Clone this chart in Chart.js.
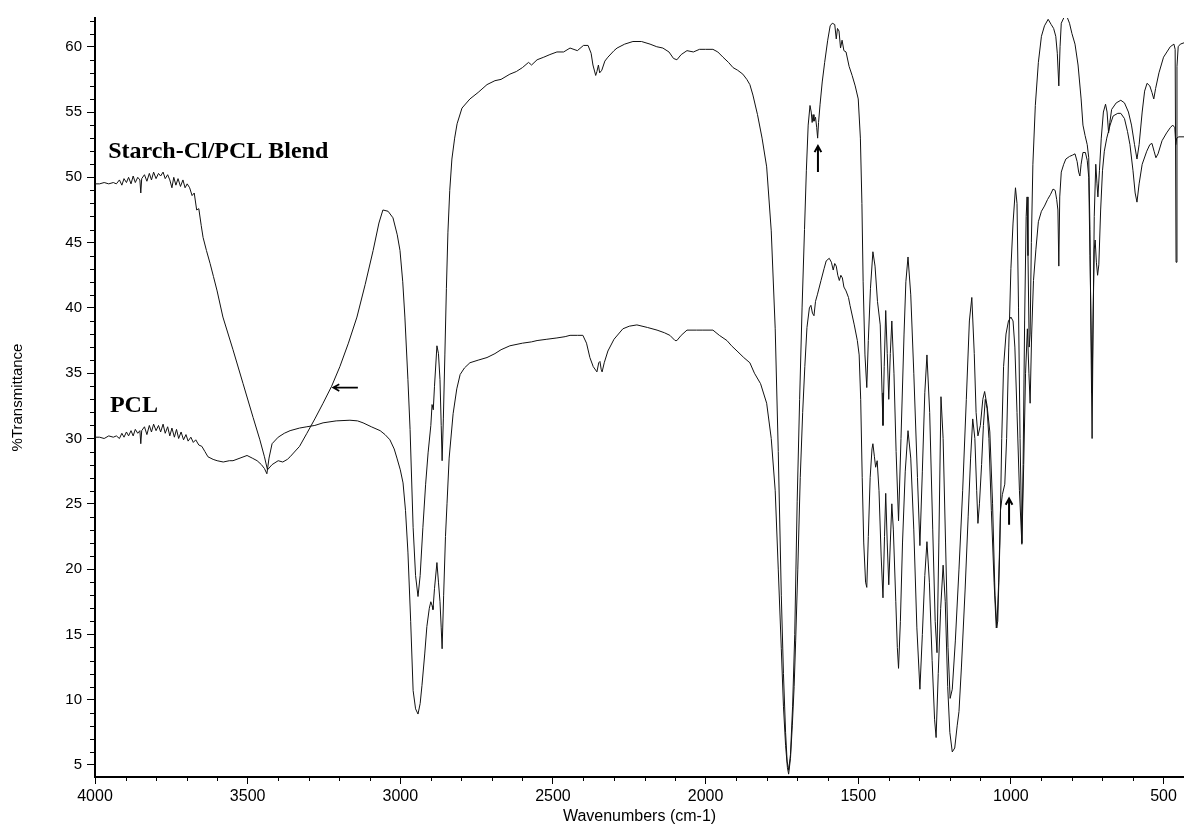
<!DOCTYPE html>
<html>
<head>
<meta charset="utf-8">
<script src="https://cdn.jsdelivr.net/npm/chart.js@4.4.1/dist/chart.umd.min.js"></script>
<style>
  html, body { margin: 0; padding: 0; background: #fff; }
  #wrap { width: 1184px; height: 827px; }
</style>
</head>
<body>
<div id="wrap"><canvas id="c" width="1184" height="827"></canvas></div>
<script>
// ---------------- DATA ----------------
const blendWavenumbers = [
  4000, 3985, 3970, 3955, 3940, 3930, 3920, 3912, 3905, 3897,
  3890, 3882, 3875, 3868, 3860, 3853, 3850, 3847, 3838, 3830,
  3822, 3815, 3808, 3800, 3792, 3785, 3777, 3770, 3762, 3755,
  3748, 3742, 3735, 3728, 3720, 3712, 3705, 3698, 3690, 3682,
  3675, 3667, 3660, 3652, 3646, 3635, 3623, 3612, 3600, 3581,
  3548, 3515, 3482, 3460, 3445, 3435, 3420, 3400, 3385, 3370,
  3361, 3330, 3306, 3280, 3253, 3225, 3198, 3170, 3142, 3115,
  3089, 3070, 3057, 3040, 3024, 3010, 3001, 2992, 2985, 2975,
  2968, 2958, 2950, 2942, 2935, 2926, 2917, 2909, 2900, 2896,
  2892, 2888, 2880, 2875, 2870, 2866, 2863, 2859, 2854, 2849,
  2844, 2838, 2831, 2822, 2814, 2798, 2772, 2745, 2716, 2690,
  2670, 2641, 2620, 2600, 2580, 2570, 2552, 2530, 2510, 2487,
  2465, 2444, 2420, 2400, 2385, 2375, 2369, 2360, 2356, 2351,
  2347, 2340, 2330, 2320, 2300, 2290, 2265, 2238, 2210, 2182,
  2160, 2140, 2120, 2105, 2094, 2080, 2061, 2040, 2020, 2000,
  1976, 1960, 1943, 1925, 1910, 1895, 1878, 1865, 1855, 1845,
  1830, 1815, 1800, 1785, 1772, 1762, 1752, 1745, 1738, 1733,
  1728, 1722, 1715, 1708, 1700, 1692, 1684, 1676, 1670, 1664,
  1658, 1654, 1651, 1648, 1645, 1640, 1636, 1633, 1630, 1625,
  1618, 1610, 1600, 1592, 1585, 1577, 1572, 1568, 1563, 1558,
  1553, 1547, 1540, 1530, 1520, 1510, 1500, 1493, 1488, 1484,
  1478, 1472, 1467, 1460, 1452, 1445, 1437, 1428, 1422, 1419,
  1415, 1410, 1405, 1400, 1395, 1390, 1383, 1376, 1368, 1360,
  1350, 1344, 1337, 1328, 1318, 1306, 1298, 1290, 1282, 1275,
  1266, 1256, 1248, 1242, 1236, 1229, 1222, 1214, 1206, 1199,
  1192, 1182, 1170, 1158, 1146, 1136, 1128, 1120, 1114, 1108,
  1100, 1092, 1086, 1078, 1069, 1060, 1052, 1046, 1040, 1034,
  1028, 1020, 1014, 1007, 1000, 993, 985, 980, 975, 970,
  964, 960, 955, 950, 947, 944, 940, 937, 933, 928,
  920, 910, 900, 890, 878, 868, 860, 853, 848, 843,
  839, 835, 825, 818, 808, 800, 790, 780, 770, 764,
  757, 750, 745, 741, 737, 734, 731, 727, 722, 718,
  715, 710, 704, 697, 690, 685, 680, 676, 670, 655,
  640, 628, 615, 605, 595, 587, 580, 570, 562, 554,
  545, 538, 532, 526, 515, 500, 489, 478, 466, 462,
  459, 456, 452, 445, 433
];
const blendTransmittance = [
  49.5, 49.5, 49.6, 49.5, 49.6, 49.5, 49.8, 49.4, 49.9, 49.6,
  50.0, 49.5, 50.1, 49.6, 50.0, 49.8, 48.8, 49.9, 50.2, 49.7,
  50.3, 49.8, 50.4, 49.9, 50.3, 50.1, 50.4, 49.9, 50.2, 49.8,
  49.2, 50.0, 49.4, 49.9, 49.3, 49.8, 49.2, 49.5, 49.2, 48.6,
  48.8, 47.5, 47.6, 46.3, 45.4, 44.4, 43.4, 42.4, 41.3, 39.3,
  36.8, 34.2, 31.6, 29.9, 28.6, 27.6, 28.0, 28.3, 28.2, 28.4,
  28.6, 29.4, 30.4, 31.5, 32.7, 34.0, 35.5, 37.3, 39.3, 41.8,
  44.4, 46.5, 47.5, 47.4, 46.9, 45.6, 44.4, 42.0, 39.3, 34.5,
  30.7, 23.2, 19.5, 17.9, 19.5, 23.2, 26.5, 28.9, 31.0, 32.6,
  32.2, 34.0, 37.1, 36.5, 34.5, 31.0, 28.3, 31.5, 36.4, 41.5,
  45.8, 49.0, 51.4, 53.0, 54.1, 55.3, 56.0, 56.5, 57.1, 57.4,
  57.5, 57.9, 58.1, 58.4, 58.8, 58.6, 59.0, 59.2, 59.4, 59.6,
  59.6, 59.9, 59.7, 60.1, 60.1, 59.5, 58.6, 57.8, 58.1, 58.6,
  58.0, 58.2, 58.9, 59.2, 59.7, 59.9, 60.2, 60.4, 60.4, 60.2,
  60.0, 59.9, 59.6, 59.1, 59.0, 59.4, 59.7, 59.6, 59.8, 59.8,
  59.8, 59.6, 59.2, 58.8, 58.4, 58.2, 57.9, 57.5, 57.1, 56.3,
  54.8, 53.0, 50.8, 45.9, 38.4, 29.0, 18.0, 12.0, 7.5, 5.3,
  4.6, 5.8, 9.5, 15.0, 25.2, 33.0, 40.0, 46.0, 50.5, 54.0,
  55.5, 55.0, 54.2, 54.8, 54.3, 54.6, 53.8, 53.0, 54.2, 55.6,
  57.3, 58.8, 60.5, 61.6, 61.8, 61.7, 60.6, 61.4, 61.2, 59.9,
  60.5, 59.7, 59.6, 58.5, 57.8, 57.0, 56.0, 53.0, 48.0, 42.0,
  36.4, 33.9, 37.5, 41.5, 44.3, 43.2, 40.5, 38.7, 33.5, 31.0,
  35.5, 39.8, 36.5, 33.0, 36.5, 39.0, 35.0, 29.0, 23.7, 30.0,
  38.0, 42.0, 43.9, 41.0, 35.0, 27.0, 21.8, 27.5, 33.5, 36.4,
  32.0, 23.0, 16.0, 13.6, 22.0, 33.2, 30.0, 22.0, 14.0, 10.1,
  10.8, 14.5, 20.0, 26.0, 33.0, 39.0, 40.8, 36.5, 32.0, 30.2,
  31.0, 33.0, 33.6, 32.5, 30.5, 25.0, 18.0, 15.5, 19.0, 24.5,
  25.7, 26.5, 30.0, 37.0, 43.0, 46.5, 49.2, 48.0, 40.0, 30.0,
  22.0, 28.0, 39.0, 47.0, 48.5, 44.0, 37.0, 38.0, 45.0, 51.0,
  55.5, 58.8, 60.8, 61.6, 62.1, 61.7, 61.4, 60.8, 59.5, 57.0,
  60.0, 61.8, 62.3, 62.4, 61.8, 61.0, 60.2, 58.6, 56.0, 54.0,
  53.2, 52.5, 51.5, 46.0, 36.0, 30.0, 38.0, 47.0, 51.0, 49.5,
  48.5, 50.5, 53.0, 55.0, 55.6, 55.0, 53.4, 54.2, 55.2, 55.7,
  55.9, 55.7, 55.0, 54.0, 52.5, 51.4, 52.5, 55.0, 56.6, 57.2,
  57.0, 56.5, 56.0, 56.8, 58.0, 59.2, 59.6, 60.0, 60.2, 59.8,
  43.5, 58.5, 60.0, 60.2, 60.3
];

const pclWavenumbers = [
  4000, 3985, 3970, 3955, 3940, 3930, 3920, 3912, 3905, 3897,
  3890, 3882, 3875, 3868, 3860, 3853, 3850, 3847, 3838, 3830,
  3822, 3815, 3808, 3800, 3792, 3785, 3777, 3770, 3762, 3755,
  3748, 3740, 3733, 3726, 3718, 3710, 3702, 3695, 3686, 3678,
  3670, 3660, 3650, 3640, 3630, 3613, 3600, 3580, 3560, 3548,
  3525, 3502, 3485, 3469, 3455, 3445, 3437, 3430, 3420, 3400,
  3380, 3361, 3330, 3306, 3280, 3253, 3210, 3165, 3140, 3122,
  3095, 3066, 3050, 3034, 3020, 3011, 3000, 2991, 2983, 2975,
  2966, 2958, 2950, 2942, 2935, 2929, 2920, 2913, 2905, 2900,
  2896, 2893, 2888, 2880, 2875, 2870, 2866, 2863, 2858, 2852,
  2847, 2840, 2827, 2815, 2804, 2790, 2772, 2745, 2716, 2690,
  2670, 2641, 2600, 2570, 2552, 2520, 2487, 2460, 2444, 2420,
  2402, 2390, 2379, 2368, 2356, 2350, 2346, 2342, 2339, 2332,
  2320, 2300, 2271, 2250, 2225, 2190, 2159, 2135, 2117, 2100,
  2094, 2080, 2061, 2030, 2009, 1976, 1955, 1930, 1915, 1897,
  1875, 1855, 1840, 1820, 1800, 1785, 1772, 1762, 1752, 1745,
  1738, 1732, 1728, 1722, 1716, 1710, 1705, 1698, 1690, 1682,
  1675, 1668, 1660, 1655, 1650, 1645, 1640, 1634, 1622, 1612,
  1605, 1595, 1588, 1582, 1577, 1572, 1567, 1562, 1557, 1552,
  1547, 1540, 1532, 1527, 1513, 1503, 1497, 1492, 1487, 1482,
  1476, 1472, 1467, 1461, 1455, 1452, 1447, 1443, 1438, 1432,
  1425, 1419, 1414, 1410, 1405, 1400, 1395, 1390, 1385, 1377,
  1372, 1368, 1362, 1355, 1346, 1337, 1328, 1318, 1308, 1298,
  1290, 1282, 1275, 1267, 1258, 1250, 1245, 1238, 1230, 1222,
  1215, 1207, 1200, 1192, 1184, 1176, 1170, 1162, 1150, 1140,
  1132, 1125, 1118, 1112, 1108, 1103, 1096, 1090, 1084, 1078,
  1072, 1064, 1055, 1048, 1043, 1036, 1030, 1024, 1016, 1008,
  1000, 993, 987, 980, 972, 964, 958, 952, 946, 941,
  937, 932, 926, 918, 910, 900, 890, 880, 870, 862,
  855, 850, 846, 843, 840, 835, 827, 820, 808, 798,
  790, 783, 778, 774, 770, 764, 756, 750, 745, 741,
  737, 734, 731, 727, 724, 720, 716, 712, 706, 700,
  694, 686, 675, 665, 650, 640, 628, 618, 610, 600,
  593, 587, 580, 570, 555, 545, 538, 531, 525, 518,
  505, 490, 478, 470, 463, 460, 457, 450, 433
];
const pclTransmittance = [
  30.1, 30.1, 30.0, 30.2, 30.1, 30.2, 30.0, 30.4, 30.1, 30.5,
  30.2, 30.6, 30.2, 30.7, 30.4, 30.6, 29.6, 30.6, 30.9, 30.3,
  31.0, 30.5, 31.1, 30.6, 31.0, 30.5, 31.1, 30.4, 30.9, 30.2,
  30.8, 30.1, 30.7, 30.0, 30.5, 29.9, 30.3, 29.8, 30.1, 29.7,
  29.9, 29.5, 29.4, 29.0, 28.6, 28.4, 28.3, 28.2, 28.3, 28.3,
  28.5, 28.7, 28.5, 28.3, 28.0, 27.7, 27.3, 28.5, 29.6, 30.1,
  30.4, 30.6, 30.8, 30.9, 31.0, 31.2, 31.35, 31.4, 31.35, 31.2,
  30.9, 30.6, 30.3, 29.9, 29.2, 28.5, 27.6, 26.6, 24.5, 21.3,
  16.0, 10.7, 9.3, 8.9, 9.7, 11.1, 13.5, 15.6, 17.0, 17.5,
  17.2, 16.9, 18.5, 20.5, 19.0, 17.5, 15.5, 13.9, 18.0, 22.5,
  25.0, 28.5, 31.9, 33.8, 34.9, 35.4, 35.8, 36.0, 36.2, 36.5,
  36.8, 37.1, 37.3, 37.4, 37.5, 37.6, 37.7, 37.8, 37.9, 37.9,
  37.9, 37.3, 36.2, 35.5, 35.1, 35.8, 35.9, 35.3, 35.1, 35.8,
  36.7, 37.6, 38.4, 38.6, 38.7, 38.5, 38.3, 38.1, 37.9, 37.5,
  37.5, 37.9, 38.3, 38.3, 38.3, 38.3, 37.9, 37.5, 37.1, 36.7,
  36.2, 35.8, 35.0, 34.2, 32.7, 30.0, 26.0, 20.0, 13.9, 9.5,
  6.5, 4.8, 4.3, 5.5, 8.0, 11.0, 14.5, 20.0, 27.0, 32.0,
  35.5, 38.5, 40.0, 40.2, 39.6, 39.4, 40.5, 41.0, 42.1, 43.0,
  43.6, 43.8, 43.5, 42.9, 43.4, 43.2, 42.5, 42.1, 42.5, 42.3,
  41.6, 41.3, 40.8, 40.2, 38.7, 37.5, 36.4, 33.0, 27.0, 22.0,
  19.0, 18.6, 22.5, 27.0, 29.2, 29.6, 28.6, 27.8, 28.3, 26.0,
  21.0, 17.8, 22.5, 25.8, 22.0, 18.8, 22.0, 25.0, 23.0, 17.5,
  14.0, 12.4, 16.0, 22.0, 27.5, 30.6, 28.5, 23.0, 15.5, 10.8,
  15.0, 19.5, 22.1, 19.0, 13.0, 8.5, 7.1, 12.0, 17.0, 20.3,
  17.5, 11.0, 7.5, 6.0, 6.3, 8.0, 9.1, 12.5, 18.4, 24.0,
  28.5, 31.5, 30.0, 26.0, 23.5, 25.0, 28.0, 31.0, 33.0, 32.3,
  30.0, 24.5, 19.0, 15.5, 16.0, 22.0, 30.0, 35.5, 38.0, 39.0,
  39.3, 39.0, 37.0, 32.0, 26.0, 21.9, 28.0, 35.0, 38.4, 35.0,
  32.7, 38.0, 42.1, 44.5, 46.6, 47.4, 47.8, 48.3, 48.7, 49.1,
  49.0, 48.3, 47.5, 43.2, 48.5, 50.4, 51.0, 51.4, 51.6, 51.7,
  51.8, 51.2, 50.4, 50.1, 51.0, 51.9, 51.9, 51.3, 50.0, 44.0,
  38.0, 33.5, 39.0, 44.5, 45.2, 43.5, 42.5, 43.3, 47.5, 50.5,
  52.0, 53.0, 54.0, 54.7, 54.9, 54.9, 54.5, 53.5, 52.5, 50.5,
  48.8, 48.1, 49.5, 51.0, 52.0, 52.5, 52.6, 52.0, 51.5, 51.8,
  52.8, 53.4, 53.8, 54.0, 53.8, 52.5, 53.0, 53.1, 53.1
];

const xTickValues = [4000, 3500, 3000, 2500, 2000, 1500, 1000, 500];
const yTickValues = [5, 10, 15, 20, 25, 30, 35, 40, 45, 50, 55, 60];
const xRange = [433, 4000];
const yRange = [4.08, 62.2];

const seriesLabels = ['Starch-Cl/PCL Blend', 'PCL'];
const xTitle = 'Wavenumbers (cm-1)';
const yTitle = '%Transmittance';

// Annotation texts and arrows, positioned in data units
const annotationTexts = [
  { text: 'Starch-Cl/PCL Blend', x: 3957, y: 51.5 },
  { text: 'PCL', x: 3951, y: 32.0 }
];
const annotationArrows = [
  { fromX: 3139, fromY: 33.9, toX: 3220, toY: 33.9 },
  { fromX: 1632, fromY: 50.4, toX: 1632, toY: 52.4 },
  { fromX: 1006, fromY: 23.4, toX: 1006, toY: 25.4 }
];

// ---------------- BUILD ----------------
function pairs(xs, ys) {
  if (xs.length !== ys.length) {
    throw new Error('length mismatch ' + xs.length + ' vs ' + ys.length);
  }
  return xs.map((v, i) => ({ x: v, y: ys[i] }));
}

const minorTicksPlugin = {
  id: 'minorTicks',
  afterDraw(chart) {
    const { ctx, scales: { x, y } } = chart;
    ctx.save();
    ctx.strokeStyle = '#000';
    ctx.lineWidth = 1;
    ctx.beginPath();
    for (let v = Math.ceil(y.min); v <= y.max; v++) {
      if (v % 5 === 0) continue;
      const py = Math.round(y.getPixelForValue(v)) + 0.5;
      ctx.moveTo(x.left - 5, py);
      ctx.lineTo(x.left, py);
    }
    for (let v = Math.ceil(x.min / 100) * 100; v <= x.max; v += 100) {
      if (v % 500 === 0) continue;
      const px = Math.round(x.getPixelForValue(v)) + 0.5;
      ctx.moveTo(px, y.bottom);
      ctx.lineTo(px, y.bottom + 4);
    }
    ctx.stroke();
    ctx.restore();
  }
};

const annotationPlugin = {
  id: 'annotations',
  afterDatasetsDraw(chart) {
    const { ctx, scales: { x, y } } = chart;
    ctx.save();
    ctx.fillStyle = '#000';
    ctx.font = 'bold 24px "Liberation Serif", "Times New Roman", serif';
    ctx.textAlign = 'left';
    ctx.textBaseline = 'alphabetic';
    annotationTexts.forEach(t => {
      ctx.fillText(t.text, x.getPixelForValue(t.x), y.getPixelForValue(t.y));
    });
    ctx.strokeStyle = '#000';
    annotationArrows.forEach((a, i) => {
      const x1 = x.getPixelForValue(a.fromX), y1 = y.getPixelForValue(a.fromY);
      const x2 = x.getPixelForValue(a.toX), y2 = y.getPixelForValue(a.toY);
      const ang = Math.atan2(y2 - y1, x2 - x1);
      const head = 7, spread = 0.5;
      ctx.lineWidth = i === 0 ? 1.6 : 2;
      ctx.beginPath();
      ctx.moveTo(x1, y1);
      ctx.lineTo(x2, y2);
      ctx.moveTo(x2 - head * Math.cos(ang - spread), y2 - head * Math.sin(ang - spread));
      ctx.lineTo(x2, y2);
      ctx.lineTo(x2 - head * Math.cos(ang + spread), y2 - head * Math.sin(ang + spread));
      ctx.stroke();
    });
    ctx.restore();
  }
};

const fontFamily = '"Liberation Sans", Arial, sans-serif';
const plainNumber = v => String(v);

new Chart(document.getElementById('c'), {
  type: 'scatter',
  data: {
    datasets: [
      {
        label: seriesLabels[0],
        data: pairs(blendWavenumbers, blendTransmittance),
        showLine: true, borderColor: '#111', borderWidth: 1,
        pointRadius: 0, tension: 0
      },
      {
        label: seriesLabels[1],
        data: pairs(pclWavenumbers, pclTransmittance),
        showLine: true, borderColor: '#111', borderWidth: 1,
        pointRadius: 0, tension: 0
      }
    ]
  },
  options: {
    responsive: false,
    animation: false,
    devicePixelRatio: 1,
    layout: { padding: { top: 18, right: 0, left: 0, bottom: 0 } },
    plugins: { legend: { display: false }, tooltip: { enabled: false } },
    scales: {
      x: {
        type: 'linear', reverse: true,
        min: xRange[0], max: xRange[1],
        afterFit(scale) { scale.height = 50; },
        afterBuildTicks(scale) { scale.ticks = xTickValues.map(v => ({ value: v })); },
        border: { display: true, color: '#000', width: 2 },
        grid: { drawOnChartArea: false, drawTicks: true, tickLength: 7, tickColor: '#000', tickWidth: 1 },
        ticks: { color: '#000', font: { family: fontFamily, size: 16 }, padding: 3, maxRotation: 0, autoSkip: false, includeBounds: false, callback: plainNumber },
        title: { display: true, text: xTitle, color: '#000', font: { family: fontFamily, size: 16 }, padding: { top: 0, bottom: 1 } }
      },
      y: {
        type: 'linear',
        min: yRange[0], max: yRange[1],
        afterFit(scale) { scale.width = 95; },
        afterBuildTicks(scale) { scale.ticks = yTickValues.map(v => ({ value: v })); },
        border: { display: true, color: '#000', width: 2 },
        grid: { drawOnChartArea: false, drawTicks: true, tickLength: 8, tickColor: '#000', tickWidth: 1 },
        ticks: { color: '#000', font: { family: fontFamily, size: 15 }, padding: 5, autoSkip: false, includeBounds: false, callback: plainNumber },
        title: { display: true, text: yTitle, color: '#000', font: { family: fontFamily, size: 15 }, padding: { top: 9, bottom: 0 } }
      }
    }
  },
  plugins: [minorTicksPlugin, annotationPlugin]
});
</script>
</body>
</html>
